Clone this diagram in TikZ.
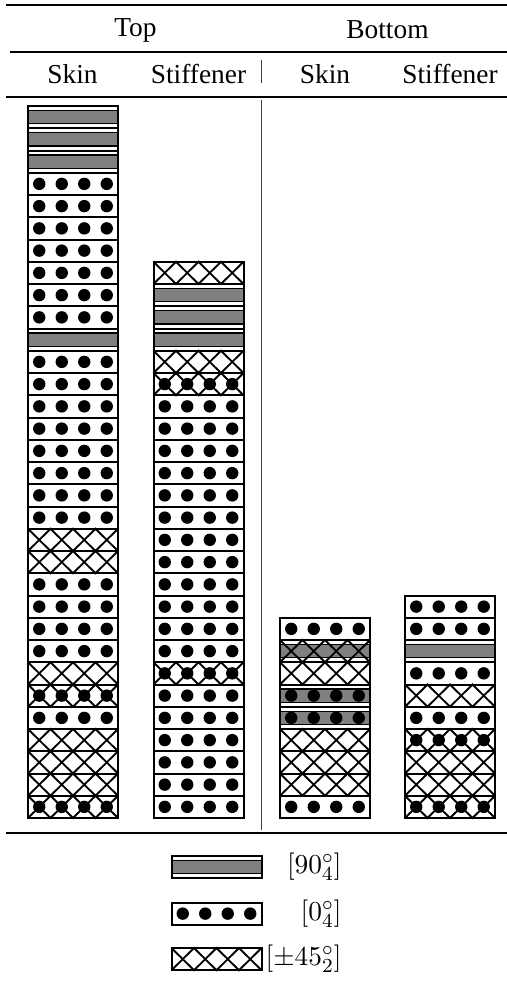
\documentclass[tikz,border=0pt,11pt]{standalone}
\usepackage[no-math]{fontspec}
\setmainfont{Liberation Serif}
\tikzset{
  plyedge/.style={line width=0.8pt},
  plyband/.style={line width=0.55pt,fill=gray},
  plycross/.style={line width=0.75pt},
  heavyrule/.style={line width=0.8pt},
  lightrule/.style={line width=0.5pt},
  colsep/.style={line width=0.4pt,black!75},
  keylabel/.style={anchor=east,inner sep=0pt},
}
\begin{document}
\begin{tikzpicture}[x=0.4pt,y=-0.4pt]%
% ply blocks are 90 x 22.25 units, (x,y) is the top left corner
\def\plybox#1#2{\draw[plyedge] (#1,#2) rectangle ++(90,22.25);}
\def\plyband#1#2{\draw[plyband] (#1,{#2+4.45}) rectangle ++(90,13.35);\plybox{#1}{#2}}
\def\plydots#1#2{%
 \fill ({#1+11.25},{#2+11.125}) circle (6.2);
 \fill ({#1+33.75},{#2+11.125}) circle (6.2);
 \fill ({#1+56.25},{#2+11.125}) circle (6.2);
 \fill ({#1+78.75},{#2+11.125}) circle (6.2);
 \plybox{#1}{#2}}
\def\plycross#1#2{%
 \draw[plycross] (#1,#2)
  -- ++(22.5,22.25) -- ++(22.5,-22.25) -- ++(22.5,22.25) -- ++(22.5,-22.25)
  (#1,{#2+22.25})
  -- ++(22.5,-22.25) -- ++(22.5,22.25) -- ++(22.5,-22.25) -- ++(22.5,22.25);
 \plybox{#1}{#2}}
\useasboundingbox (0,0) rectangle (507,996);
% table rules
\draw[heavyrule] (6,5) -- (507,5);
\draw[lightrule] (10,52) -- (507,52);
\draw[lightrule] (6,97) -- (507,97);
\draw[heavyrule] (6,833) -- (507,833);
\draw[colsep] (261,60) -- (261,83);
\draw[colsep] (261,100) -- (261,830);
% headings
\node (top) at (135.5,30) {Top};
\node (bottom) at (387.5,30) {Bottom};
\node (topskin) at (72.5,74) {Skin};
\node (topstiff) at (198.5,74) {Stiffener};
\node (botskin) at (325,74) {Skin};
\node (botstiff) at (450,74) {Stiffener};
% top skin
\plyband{28}{106}
\plyband{28}{128.25}
\plyband{28}{150.5}
\plydots{28}{172.75}
\plydots{28}{195}
\plydots{28}{217.25}
\plydots{28}{239.5}
\plydots{28}{261.75}
\plydots{28}{284}
\plydots{28}{306.25}
\plyband{28}{328.5}
\plydots{28}{350.75}
\plydots{28}{373}
\plydots{28}{395.25}
\plydots{28}{417.5}
\plydots{28}{439.75}
\plydots{28}{462}
\plydots{28}{484.25}
\plydots{28}{506.5}
\plycross{28}{528.75}
\plycross{28}{551}
\plydots{28}{573.25}
\plydots{28}{595.5}
\plydots{28}{617.75}
\plydots{28}{640}
\plycross{28}{662.25}
\plycross{28}{684.5}\plydots{28}{684.5}
\plydots{28}{706.75}
\plycross{28}{729}
\plycross{28}{751.25}
\plycross{28}{773.5}
\plycross{28}{795.75}\plydots{28}{795.75}
% top stiffener
\plycross{153.5}{261.75}
\plyband{153.5}{284}
\plyband{153.5}{306.25}
\plyband{153.5}{328.5}
\plycross{153.5}{350.75}
\plycross{153.5}{373}\plydots{153.5}{373}
\plydots{153.5}{395.25}
\plydots{153.5}{417.5}
\plydots{153.5}{439.75}
\plydots{153.5}{462}
\plydots{153.5}{484.25}
\plydots{153.5}{506.5}
\plydots{153.5}{528.75}
\plydots{153.5}{551}
\plydots{153.5}{573.25}
\plydots{153.5}{595.5}
\plydots{153.5}{617.75}
\plydots{153.5}{640}
\plycross{153.5}{662.25}\plydots{153.5}{662.25}
\plydots{153.5}{684.5}
\plydots{153.5}{706.75}
\plydots{153.5}{729}
\plydots{153.5}{751.25}
\plydots{153.5}{773.5}
\plydots{153.5}{795.75}
% bottom skin
\plydots{280}{617.75}
\plyband{280}{640}\plycross{280}{640}
\plycross{280}{662.25}
\plyband{280}{684.5}\plydots{280}{684.5}
\plyband{280}{706.75}\plydots{280}{706.75}
\plycross{280}{729}
\plycross{280}{751.25}
\plycross{280}{773.5}
\plydots{280}{795.75}
% bottom stiffener
\plydots{405}{595.5}
\plydots{405}{617.75}
\plyband{405}{640}
\plydots{405}{662.25}
\plycross{405}{684.5}
\plydots{405}{706.75}
\plycross{405}{729}\plydots{405}{729}
\plycross{405}{751.25}
\plycross{405}{773.5}
\plycross{405}{795.75}\plydots{405}{795.75}
% key
\plyband{171.5}{856}
\plydots{171.5}{902.5}
\plycross{171.5}{948}
\node[keylabel] (key90) at (342,867) {$[90^{\circ}_{4}]$};
\node[keylabel] (key0) at (342,914) {$[0^{\circ}_{4}]$};
\node[keylabel] (key45) at (342,959) {$[\pm45^{\circ}_{2}]$};
\end{tikzpicture}
\end{document}
